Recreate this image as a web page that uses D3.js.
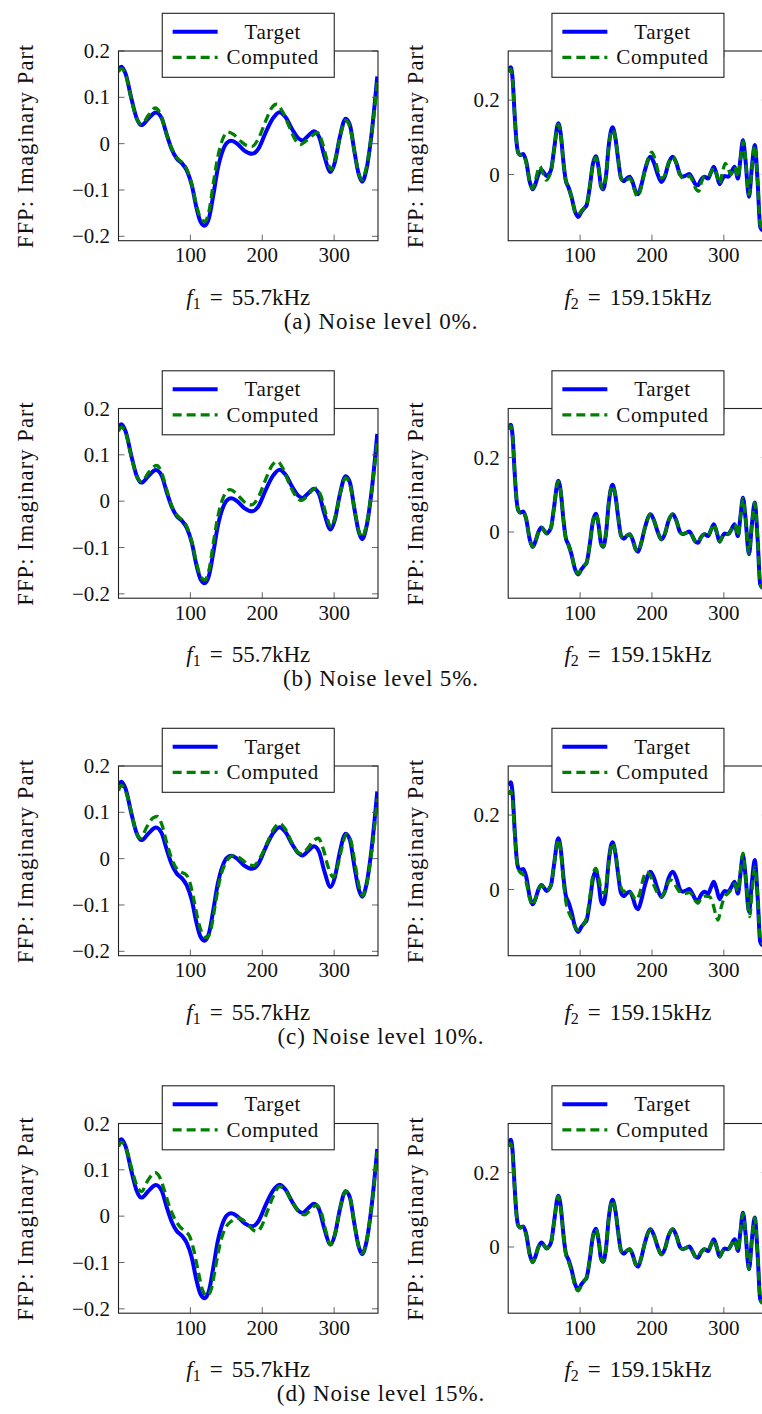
<!DOCTYPE html>
<html>
<head>
<meta charset="utf-8">
<script src="https://cdn.jsdelivr.net/npm/d3@7"></script>
<style>
  html, body { margin: 0; padding: 0; background: #fff; }
</style>
</head>
<body>
<div id="chart"></div>
<script>
// ---- data ----
const xTicks = [100, 200, 300];
const leftYTicks = [-0.2, -0.1, 0, 0.1, 0.2];
const rightYTicks = [0, 0.2];
const leftYDomain = [-0.2095, 0.2];
const rightYDomain = [-0.178, 0.332];
const xDomain = [0, 361];

const captions = ["(a) Noise level 0%.", "(b) Noise level 5%.", "(c) Noise level 10%.", "(d) Noise level 15%."];
const freqLeft = { sym: "f", sub: "1", val: "55.7kHz" };
const freqRight = { sym: "f", sub: "2", val: "159.15kHz" };
const legendNames = ["Target", "Computed"];

// f1 = 55.7kHz, target curve (same in every row)
const leftTarget = [[0,0.16],[4,0.166],[10,0.15],[18,0.097],[25,0.056],[32,0.04],[42,0.055],[52,0.067],[60,0.055],[67,0.02],[74,-0.012],[81,-0.032],[88,-0.042],[95,-0.058],[102,-0.09],[108,-0.135],[114,-0.168],[120,-0.177],[126,-0.16],[132,-0.11],[138,-0.055],[145,-0.015],[151,0.002],[157,0.006],[165,0.0],[175,-0.015],[186,-0.022],[195,-0.01],[205,0.025],[215,0.055],[224,0.068],[232,0.058],[242,0.03],[250,0.012],[256,0.007],[264,0.017],[272,0.027],[279,0.015],[286,-0.025],[295,-0.061],[301,-0.04],[308,0.015],[316,0.054],[322,0.04],[328,-0.015],[334,-0.065],[339,-0.082],[345,-0.055],[352,0.02],[360,0.145]];

const leftComputedA = [[0,0.155],[4,0.162],[10,0.148],[18,0.095],[25,0.055],[32,0.042],[42,0.062],[51,0.077],[58,0.065],[66,0.025],[74,-0.01],[81,-0.03],[88,-0.04],[95,-0.055],[102,-0.088],[108,-0.13],[114,-0.16],[120,-0.168],[126,-0.145],[132,-0.085],[138,-0.03],[145,0.01],[152,0.025],[160,0.02],[170,0.005],[180,-0.005],[186,-0.006],[195,0.012],[205,0.05],[213,0.077],[220,0.085],[228,0.07],[238,0.035],[246,0.008],[253,-0.002],[260,0.005],[270,0.018],[277,0.024],[284,0.0],[290,-0.035],[296,-0.056],[302,-0.03],[309,0.02],[316,0.05],[322,0.035],[328,-0.015],[334,-0.063],[339,-0.078],[345,-0.05],[352,0.02],[360,0.132]];

const leftComputedB = [[0,0.151],[4,0.16],[10,0.147],[18,0.095],[25,0.055],[32,0.042],[42,0.062],[53,0.077],[60,0.062],[67,0.025],[74,-0.01],[81,-0.03],[88,-0.04],[95,-0.055],[102,-0.088],[108,-0.13],[114,-0.162],[120,-0.17],[126,-0.148],[132,-0.09],[138,-0.035],[145,0.005],[155,0.025],[163,0.018],[172,0.003],[180,-0.007],[185,-0.008],[195,0.01],[205,0.048],[214,0.078],[221,0.086],[229,0.07],[238,0.036],[247,0.01],[254,0.0015],[262,0.01],[270,0.024],[275,0.028],[282,0.01],[289,-0.03],[296,-0.056],[302,-0.03],[309,0.02],[316,0.05],[322,0.035],[328,-0.015],[334,-0.063],[339,-0.078],[345,-0.05],[352,0.02],[360,0.132]];

const leftComputedC = [[0,0.147],[4,0.158],[10,0.145],[18,0.1],[24,0.06],[30,0.044],[40,0.07],[48,0.088],[54,0.091],[60,0.075],[67,0.035],[74,0.0],[81,-0.022],[88,-0.03],[93,-0.033],[99,-0.05],[105,-0.09],[111,-0.135],[117,-0.163],[123,-0.171],[129,-0.15],[135,-0.095],[141,-0.045],[148,-0.012],[154,0.002],[160,0.007],[170,0.0],[180,-0.012],[188,-0.015],[197,0.002],[207,0.035],[216,0.064],[224,0.076],[232,0.064],[242,0.032],[250,0.013],[255,0.011],[263,0.022],[271,0.038],[278,0.044],[285,0.02],[292,-0.02],[299,-0.04],[305,-0.015],[311,0.025],[317,0.053],[323,0.04],[329,-0.01],[335,-0.062],[340,-0.08],[346,-0.05],[353,0.025],[360,0.13]];

const leftComputedD = [[0,0.15],[4,0.16],[10,0.148],[18,0.105],[25,0.068],[32,0.053],[40,0.075],[47,0.09],[51,0.094],[57,0.085],[64,0.055],[71,0.02],[78,-0.005],[85,-0.022],[92,-0.032],[99,-0.044],[105,-0.075],[111,-0.12],[117,-0.16],[123,-0.172],[129,-0.158],[135,-0.11],[142,-0.055],[149,-0.025],[157,-0.011],[165,-0.004],[172,-0.007],[180,-0.018],[186,-0.028],[192,-0.033],[199,-0.022],[207,0.01],[216,0.045],[224,0.064],[232,0.056],[242,0.03],[252,0.008],[259,0.003],[266,0.012],[275,0.024],[282,0.008],[289,-0.035],[295,-0.062],[301,-0.04],[308,0.015],[316,0.054],[322,0.04],[328,-0.015],[334,-0.065],[339,-0.08],[345,-0.055],[352,0.02],[360,0.14]];

// f2 = 159.15kHz, target curve (same in every row)
const rightTarget = [[0,0.28],[3.5,0.288],[6,0.26],[9,0.16],[11.8,0.083],[14,0.058],[17,0.052],[21,0.055],[25,0.035],[30,-0.02],[34,-0.04],[38,-0.025],[42,0.0],[46.5,0.012],[50,0.004],[53.4,-0.004],[57,0.002],[60,0.015],[64,0.07],[69.6,0.138],[73,0.11],[77,0.03],[80,-0.015],[84,-0.035],[88,-0.06],[93,-0.1],[97.4,-0.114],[102,-0.1],[106,-0.09],[109,-0.083],[113,-0.04],[118,0.03],[122,0.049],[126,0.015],[129,-0.03],[132,-0.04],[136,-0.005],[140,0.08],[145,0.127],[149,0.1],[153,0.04],[157,-0.01],[161,-0.018],[165,-0.01],[169,-0.006],[173,-0.02],[177,-0.045],[180.7,-0.053],[185,-0.03],[190,0.01],[198,0.048],[203,0.03],[208,0.0],[213,-0.02],[218,-0.005],[223,0.03],[229,0.048],[234,0.03],[239,0.0],[243,-0.006],[248,-0.002],[252,0.001],[256,-0.01],[260,-0.025],[264,-0.029],[268,-0.015],[273,-0.006],[278,-0.011],[282,0.005],[286,0.021],[290,0.0],[294,-0.026],[298,-0.012],[301,-0.004],[306,-0.006],[310,0.005],[315,0.021],[319.6,-0.011],[323,0.04],[326.6,0.092],[330,0.04],[335,-0.06],[339,0.02],[343,0.079],[347,-0.02],[350.6,-0.141],[354,-0.15],[360,-0.08]];

const rightComputedA = [[0,0.275],[3.5,0.283],[6,0.255],[9,0.16],[11.8,0.083],[14,0.058],[17,0.052],[21,0.053],[25,0.032],[30,-0.02],[34,-0.038],[38,-0.015],[42,0.015],[44,0.022],[48,0.005],[53,-0.015],[57,-0.005],[60,0.012],[64,0.07],[69.6,0.135],[73,0.11],[77,0.03],[80,-0.015],[84,-0.035],[88,-0.06],[93,-0.1],[97.4,-0.108],[102,-0.097],[106,-0.09],[109,-0.083],[113,-0.04],[118,0.03],[122,0.045],[126,0.015],[129,-0.028],[132,-0.038],[136,-0.005],[140,0.078],[145,0.12],[149,0.1],[153,0.04],[157,-0.01],[161,-0.02],[165,-0.015],[169,-0.01],[173,-0.025],[177,-0.05],[180,-0.06],[185,-0.035],[190,0.01],[196,0.05],[200,0.06],[205,0.035],[209,0.005],[213,-0.01],[218,-0.002],[223,0.03],[229,0.048],[234,0.03],[239,0.0],[243,-0.01],[248,-0.008],[252,-0.004],[256,-0.015],[260,-0.035],[265,-0.045],[269,-0.02],[273,-0.006],[278,-0.008],[282,0.005],[286,0.018],[290,0.0],[294,-0.025],[298,0.005],[302,0.03],[306,0.015],[310,0.0],[315,0.02],[319.6,-0.008],[323,0.04],[327,0.088],[330,0.045],[335,-0.055],[339,0.02],[343,0.078],[347,-0.02],[350.6,-0.135],[354,-0.145],[360,-0.08]];

const rightComputedB = [[0,0.275],[3.5,0.285],[6,0.258],[9,0.16],[11.8,0.083],[14,0.058],[17,0.052],[21,0.055],[25,0.035],[30,-0.02],[34,-0.04],[38,-0.025],[42,0.0],[46.5,0.012],[50,0.004],[53.4,-0.004],[57,0.002],[60,0.015],[64,0.07],[69.6,0.136],[73,0.11],[77,0.03],[80,-0.015],[84,-0.035],[88,-0.06],[93,-0.1],[97.4,-0.112],[102,-0.1],[106,-0.09],[109,-0.083],[113,-0.04],[118,0.03],[122,0.049],[126,0.015],[129,-0.03],[132,-0.04],[136,-0.005],[140,0.08],[145,0.125],[149,0.1],[153,0.04],[157,-0.01],[161,-0.018],[165,-0.01],[169,-0.006],[173,-0.02],[177,-0.045],[180.7,-0.053],[185,-0.03],[190,0.01],[198,0.048],[203,0.03],[208,0.0],[213,-0.02],[218,-0.005],[223,0.03],[229,0.048],[234,0.03],[239,0.0],[243,-0.006],[248,-0.002],[252,0.001],[256,-0.01],[260,-0.025],[264,-0.029],[268,-0.015],[273,-0.006],[278,-0.011],[282,0.005],[286,0.021],[290,0.0],[294,-0.026],[298,-0.012],[301,-0.004],[306,-0.006],[310,0.005],[315,0.021],[319.6,-0.011],[323,0.04],[326.6,0.09],[330,0.04],[335,-0.058],[339,0.02],[343,0.078],[347,-0.02],[350.6,-0.14],[354,-0.15],[360,-0.08]];

const rightComputedC = [[0,0.255],[3.5,0.265],[6,0.24],[9,0.15],[11.8,0.08],[14,0.055],[17,0.045],[21,0.04],[25,0.02],[30,-0.025],[34,-0.043],[38,-0.025],[42,0.0],[46.5,0.01],[50,0.004],[53.4,-0.004],[57,0.002],[60,0.015],[64,0.07],[69.6,0.135],[73,0.105],[77,0.02],[80,-0.03],[84,-0.06],[88,-0.077],[93,-0.1],[97.4,-0.11],[102,-0.1],[106,-0.09],[109,-0.075],[113,-0.03],[118,0.04],[122,0.057],[126,0.03],[130,-0.005],[134,-0.01],[138,0.04],[141,0.09],[145,0.125],[149,0.1],[153,0.045],[157,0.005],[161,-0.005],[167,-0.001],[172,-0.012],[178,-0.028],[183,-0.01],[188,0.03],[192,0.048],[197,0.04],[203,0.01],[208,-0.01],[213,-0.019],[218,-0.005],[225,0.026],[230,0.02],[236,0.0],[243,-0.012],[248,-0.01],[252,-0.008],[256,-0.015],[260,-0.03],[264,-0.037],[268,-0.025],[274,-0.018],[280,-0.019],[285,-0.04],[289,-0.07],[292,-0.082],[296,-0.05],[301,-0.02],[306,-0.01],[310,0.0],[315,0.015],[319.6,-0.005],[323,0.05],[326.6,0.098],[330,0.04],[336,-0.073],[339,-0.01],[343,0.06],[347,-0.02],[350.6,-0.13],[354,-0.145],[360,-0.08]];

const rightComputedD = [[0,0.27],[3.5,0.278],[6,0.25],[9,0.155],[11.8,0.08],[14,0.057],[17,0.052],[21,0.054],[25,0.033],[30,-0.022],[34,-0.042],[38,-0.025],[42,0.0],[46.5,0.011],[50,0.004],[53.4,-0.004],[57,0.002],[60,0.015],[64,0.07],[69.6,0.136],[73,0.108],[77,0.028],[80,-0.018],[84,-0.04],[88,-0.065],[93,-0.105],[97.4,-0.118],[102,-0.102],[106,-0.09],[109,-0.083],[113,-0.04],[118,0.03],[122,0.048],[126,0.015],[129,-0.03],[132,-0.04],[136,-0.005],[140,0.08],[145,0.125],[149,0.1],[153,0.04],[157,-0.01],[161,-0.018],[165,-0.01],[169,-0.006],[173,-0.02],[177,-0.045],[180.7,-0.053],[185,-0.03],[190,0.01],[198,0.046],[203,0.03],[208,0.0],[213,-0.02],[218,-0.005],[223,0.03],[229,0.048],[234,0.03],[239,0.0],[243,-0.006],[248,-0.002],[252,0.001],[256,-0.01],[260,-0.025],[264,-0.029],[268,-0.015],[273,-0.006],[278,-0.011],[282,0.005],[286,0.02],[290,0.0],[294,-0.026],[298,-0.012],[301,-0.004],[306,-0.006],[310,0.005],[315,0.02],[319.6,-0.011],[323,0.04],[326.6,0.09],[330,0.04],[335,-0.06],[339,0.02],[343,0.078],[347,-0.02],[350.6,-0.14],[354,-0.15],[360,-0.08]];

const leftComputedRows = [leftComputedA, leftComputedB, leftComputedC, leftComputedD];
const rightComputedRows = [rightComputedA, rightComputedB, rightComputedC, rightComputedD];

// ---- layout ----
const W = 762, H = 1414;
const rowStep = 357.5;
const plotTop = 51, plotH = 189.7, plotW = 259.5;
const leftX0 = 118.5, rightX0 = 508.2;
const FONT = "'Liberation Serif', 'DejaVu Serif', 'Times New Roman', serif";

const svg = d3.select("#chart").append("svg")
  .attr("width", W)
  .attr("height", H)
  .attr("font-family", FONT)
  .style("display", "block");

svg.append("rect").attr("width", W).attr("height", H).attr("fill", "#fff");

const fmtTick = v => (v < 0 ? "\u2212" : "") + (v === 0 ? "0" : d3.format(".1f")(Math.abs(v)));

function drawPanel(g, { x0, top, yDomain, yTicks, target, computed, labelX, freq, id }) {
  const x = d3.scaleLinear().domain(xDomain).range([x0, x0 + plotW]);
  const y = d3.scaleLinear().domain(yDomain).range([top + plotH, top]);

  g.append("clipPath").attr("id", id)
    .append("rect")
    .attr("x", x0).attr("y", top)
    .attr("width", plotW).attr("height", plotH);

  const line = d3.line()
    .x(d => x(d[0]))
    .y(d => y(d[1]))
    .curve(d3.curveMonotoneX);

  const lines = g.append("g").attr("clip-path", `url(#${id})`);
  lines.append("path")
    .datum(target)
    .attr("fill", "none")
    .attr("stroke", "#0000ff")
    .attr("stroke-width", 4)
    .attr("stroke-linejoin", "round")
    .attr("d", line);
  lines.append("path")
    .datum(computed)
    .attr("fill", "none")
    .attr("stroke", "#008000")
    .attr("stroke-width", 3.3)
    .attr("stroke-dasharray", "9,5")
    .attr("d", line);

  // ticks (inside, on both sides like pgfplots)
  const tl = 6;
  const tickG = g.append("g").attr("stroke", "#555").attr("stroke-width", 0.9);
  yTicks.forEach(v => {
    tickG.append("line").attr("x1", x0).attr("x2", x0 + tl).attr("y1", y(v)).attr("y2", y(v));
    tickG.append("line").attr("x1", x0 + plotW).attr("x2", x0 + plotW - tl).attr("y1", y(v)).attr("y2", y(v));
  });
  xTicks.forEach(v => {
    tickG.append("line").attr("x1", x(v)).attr("x2", x(v)).attr("y1", top + plotH).attr("y2", top + plotH - tl);
    tickG.append("line").attr("x1", x(v)).attr("x2", x(v)).attr("y1", top).attr("y2", top + tl);
  });

  // axis box
  g.append("rect")
    .attr("x", x0).attr("y", top)
    .attr("width", plotW).attr("height", plotH)
    .attr("fill", "none")
    .attr("stroke", "#222")
    .attr("stroke-width", 1.1);

  // tick labels
  g.selectAll(null).data(yTicks).enter().append("text")
    .attr("x", x0 - 8.5)
    .attr("y", d => y(d))
    .attr("dy", "0.34em")
    .attr("text-anchor", "end")
    .attr("font-size", 21)
    .attr("fill", "#111")
    .text(fmtTick);

  g.selectAll(null).data(xTicks).enter().append("text")
    .attr("x", d => x(d))
    .attr("y", top + plotH + 21.5)
    .attr("text-anchor", "middle")
    .attr("font-size", 21)
    .attr("fill", "#111")
    .text(d => d);

  // y axis label
  g.append("text")
    .attr("transform", `translate(${labelX},${top + plotH / 2}) rotate(-90)`)
    .attr("text-anchor", "middle")
    .attr("font-size", 22.5)
    .attr("letter-spacing", 1.1)
    .attr("fill", "#111")
    .text("FFP: Imaginary Part");

  // legend
  const cx = x0 + plotW / 2;
  const lg = g.append("g").attr("transform", `translate(${cx - 86},${top - 37.7})`);
  lg.append("rect")
    .attr("width", 172).attr("height", 64)
    .attr("fill", "#fff")
    .attr("stroke", "#222")
    .attr("stroke-width", 1.1);
  const rowsY = [18.4, 44];
  lg.append("line")
    .attr("x1", 10.4).attr("x2", 55.4).attr("y1", rowsY[0]).attr("y2", rowsY[0])
    .attr("stroke", "#0000ff").attr("stroke-width", 4);
  lg.append("line")
    .attr("x1", 10.4).attr("x2", 55.4).attr("y1", rowsY[1]).attr("y2", rowsY[1])
    .attr("stroke", "#008000").attr("stroke-width", 3.3).attr("stroke-dasharray", "9,5");
  lg.selectAll(null).data(legendNames).enter().append("text")
    .attr("x", 110.5)
    .attr("y", (d, i) => rowsY[i])
    .attr("dy", "0.34em")
    .attr("text-anchor", "middle")
    .attr("font-size", 21)
    .attr("letter-spacing", 0.6)
    .attr("fill", "#111")
    .text(d => d);

  // frequency sub caption
  const ft = g.append("text")
    .attr("x", cx)
    .attr("y", top + plotH + 64)
    .attr("text-anchor", "middle")
    .attr("font-size", 23)
    .attr("fill", "#111");
  ft.append("tspan").attr("font-style", "italic").text(freq.sym);
  ft.append("tspan").attr("font-size", 16).attr("dy", 4).text(freq.sub);
  ft.append("tspan").attr("dy", -4).attr("dx", 9).text("=");
  ft.append("tspan").attr("dx", 9).text(freq.val);
}

captions.forEach((cap, i) => {
  const top = plotTop + i * rowStep;
  const row = svg.append("g");
  drawPanel(row, {
    x0: leftX0, top, yDomain: leftYDomain, yTicks: leftYTicks,
    target: leftTarget, computed: leftComputedRows[i],
    labelX: 33, freq: freqLeft, id: `clipL${i}`
  });
  drawPanel(row, {
    x0: rightX0, top, yDomain: rightYDomain, yTicks: rightYTicks,
    target: rightTarget, computed: rightComputedRows[i],
    labelX: 423, freq: freqRight, id: `clipR${i}`
  });
  row.append("text")
    .attr("x", 381)
    .attr("y", top + plotH + 88)
    .attr("text-anchor", "middle")
    .attr("font-size", 23)
    .attr("letter-spacing", 0.9)
    .attr("fill", "#111")
    .text(cap);
});
</script>
</body>
</html>
